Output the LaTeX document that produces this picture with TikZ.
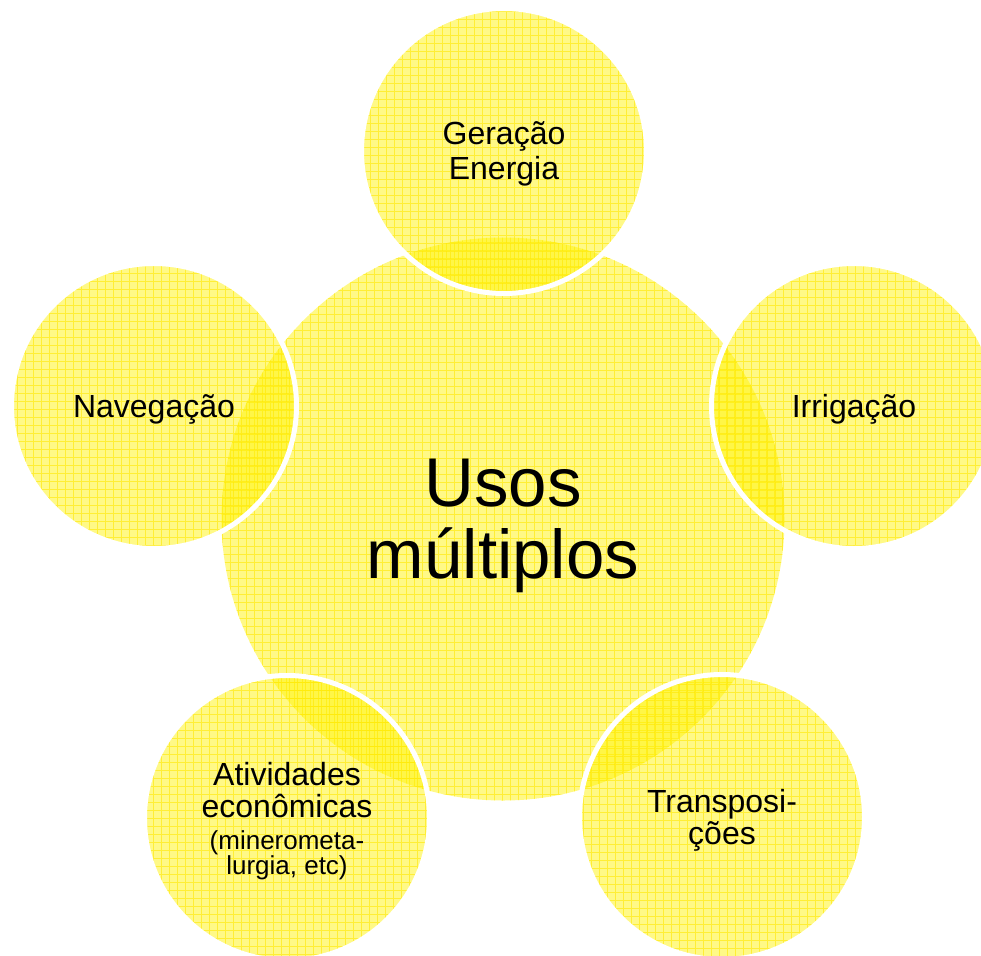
\documentclass[tikz,border=0pt]{standalone}
\usepackage{fontspec}
\setmainfont{Liberation Sans}
\definecolor{gridyellow}{RGB}{255,232,0}
\newcommand{\topstrut}[1]{\rule{0pt}{#1}}
\newcommand{\botstrut}[1]{\rule[-#1]{0pt}{#1}}
\begin{document}
\begin{tikzpicture}[x=1pt,y=-1pt,
  gridlines/.style={draw=gridyellow, draw opacity=0.6, line width=1pt, step=8pt},
  bubble/.style={circle, inner sep=0pt, outer sep=0pt, fill=yellow, fill opacity=0.47, text opacity=1,
    align=center, text=black,
    path picture={\draw[gridlines] ([xshift=-1pt,yshift=-1pt]path picture bounding box.south west) grid ([xshift=1pt,yshift=1pt]path picture bounding box.north east);}},
  hub/.style={bubble, minimum size=563pt, font=\fontsize{69}{72}\selectfont},
  sat/.style={bubble, minimum size=285pt, draw=white, line width=5pt, font=\fontsize{32}{32}\selectfont},
  satone/.style={sat, text height=29pt, text depth=7pt}]
\useasboundingbox (0,0) rectangle (981,955);
\node[hub] (hub) at (503,519) {\topstrut{62pt}Usos\\múltiplos\botstrut{15pt}};
\node[sat] (top) at (504,151) {\topstrut{29pt}Geração\\[3pt]Energia\botstrut{7pt}};
\node[satone] (right) at (854,406) {Irrigação};
\node[satone] (left) at (154,406) {Navegação};
\node[sat] (bl) at (287,818) {\topstrut{29pt}Atividades\\econômicas\\{\fontsize{26}{28}\selectfont (minerometa-}\\[-7pt]{\fontsize{26}{28}\selectfont lurgia, etc)\botstrut{6pt}}};
\node[sat] (br) at (722,817) {\topstrut{29pt}Transposi-\\ções\botstrut{7pt}};
\end{tikzpicture}
\end{document}
